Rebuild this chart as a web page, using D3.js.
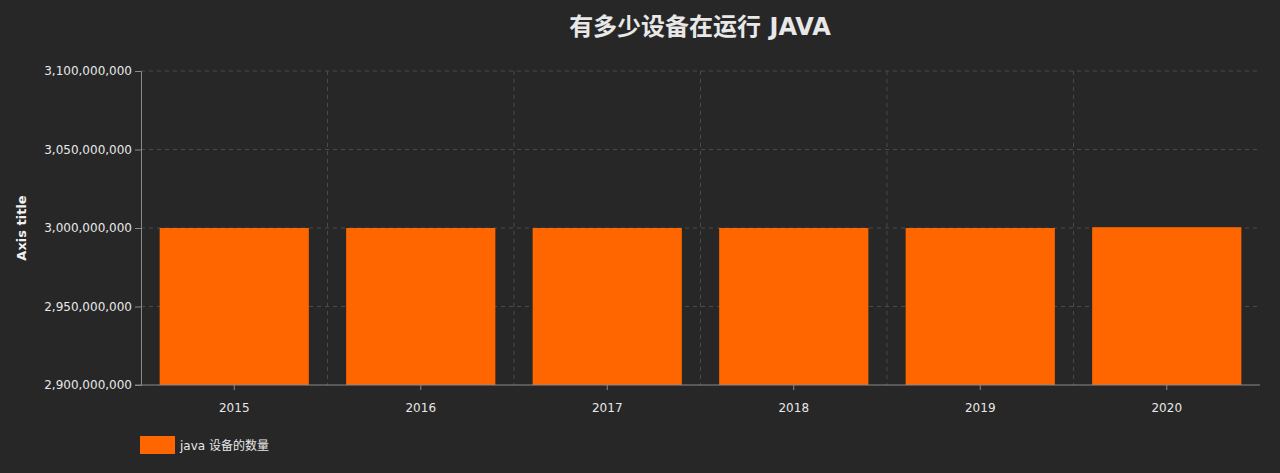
<!DOCTYPE html>
<html><head><meta charset="utf-8">
<script src="https://cdn.jsdelivr.net/npm/d3@7"></script>
<style>body{margin:0;background:#272727;}</style>
</head><body>
<script>
var years = ["2015", "2016", "2017", "2018", "2019", "2020"];
var devices = [3000000000, 3000000000, 3000000000, 3000000000, 3000000000, 3000500000];
var yTicks = [2900000000, 2950000000, 3000000000, 3050000000, 3100000000];

var width = 1280, height = 473;
var m = {left: 141, right: 20, top: 71, bottom: 88};
var font = "'DejaVu Sans', 'Noto Sans CJK SC', sans-serif";

var svg = d3.select("body").append("svg")
	.attr("width", width).attr("height", height)
	.style("font-family", font);
svg.append("rect").attr("width", width).attr("height", height).attr("fill", "#272727");

var x = d3.scaleBand().domain(years).range([m.left, width - m.right]).paddingInner(0.2).paddingOuter(0.1);
var y = d3.scaleLinear().domain([2900000000, 3100000000]).range([height - m.bottom, m.top]);
var fmt = d3.format(",");

// grid
svg.append("g").selectAll("line").data(yTicks.slice(1)).enter().append("line")
	.attr("x1", m.left).attr("x2", width - m.right)
	.attr("y1", function(d) { return y(d); }).attr("y2", function(d) { return y(d); })
	.attr("stroke", "#4a4a4a").attr("stroke-dasharray", "4,4");
var step = x.step();
svg.append("g").selectAll("line").data(years.slice(1)).enter().append("line")
	.attr("x1", function(d) { return x(d) - step * x.paddingInner() / 2; })
	.attr("x2", function(d) { return x(d) - step * x.paddingInner() / 2; })
	.attr("y1", m.top).attr("y2", height - m.bottom)
	.attr("stroke", "#4a4a4a").attr("stroke-dasharray", "4,4");

// bars
svg.append("g").selectAll("rect").data(years).enter().append("rect")
	.attr("x", function(d) { return x(d); })
	.attr("width", x.bandwidth())
	.attr("y", function(d, i) { return y(devices[i]); })
	.attr("height", function(d, i) { return y(2900000000) - y(devices[i]); })
	.attr("fill", "#ff6600");

// axes
var yAxis = svg.append("g").attr("transform", "translate(" + m.left + ",0)")
	.call(d3.axisLeft(y).tickValues(yTicks).tickFormat(fmt).tickSizeOuter(0).tickSize(6));
var xAxis = svg.append("g").attr("transform", "translate(0," + (height - m.bottom) + ")")
	.call(d3.axisBottom(x).tickSizeOuter(0).tickSize(5));
[yAxis, xAxis].forEach(function(a) {
	a.selectAll("path, line").attr("stroke", "#8a8a8a");
	a.selectAll("text").attr("fill", "#e8e8e8").style("font-size", "12px").style("font-family", font);
});
xAxis.select(".domain").attr("d", "M" + (m.left - 6) + ",0H" + (width - m.right));
xAxis.selectAll("text").attr("dy", "1.6em");

svg.append("text").attr("transform", "translate(26," + ((m.top + height - m.bottom) / 2) + ") rotate(-90)")
	.attr("text-anchor", "middle").attr("fill", "#f0f0f0")
	.style("font-size", "13px").style("font-weight", "bold").text("Axis title");

svg.append("text").attr("x", 700).attr("y", 35).attr("text-anchor", "middle")
	.attr("fill", "#e8e8e8").style("font-size", "24px").style("font-weight", "bold")
	.text("有多少设备在运行 JAVA");

// legend
svg.append("rect").attr("x", 140).attr("y", 436).attr("width", 35).attr("height", 18).attr("fill", "#ff6600");
svg.append("text").attr("x", 180).attr("y", 450).attr("fill", "#e8e8e8")
	.style("font-size", "12px").text("java 设备的数量");
</script>
</body></html>
